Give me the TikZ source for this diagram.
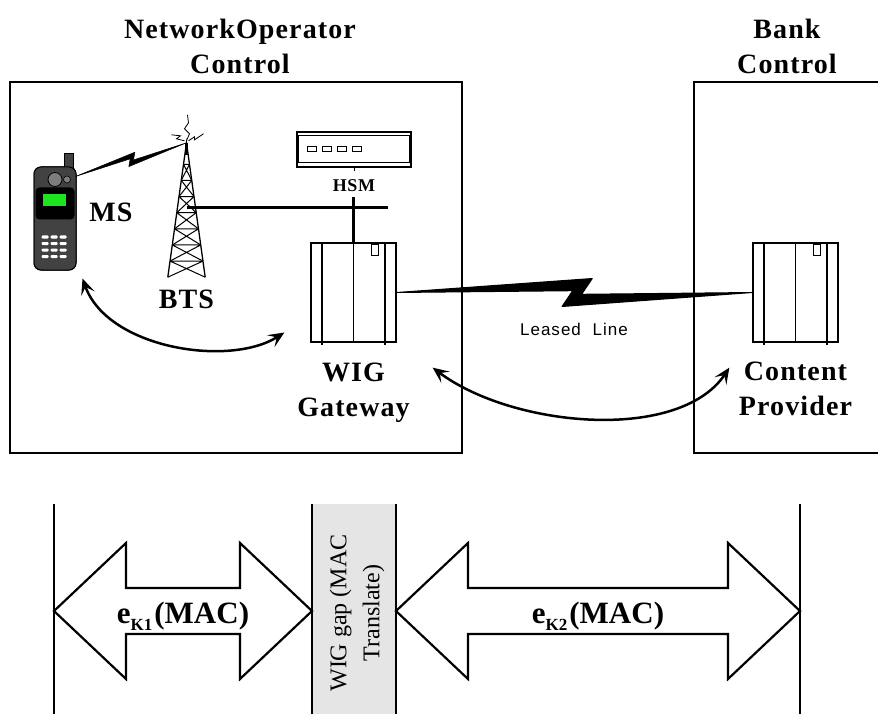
\documentclass[tikz,border=0pt]{standalone}
\usepackage{fontspec}
\setmainfont{Liberation Serif}
\newfontfamily\labelfont{Liberation Serif}[LetterSpace=4]
\newfontfamily\linefont{Liberation Sans}[LetterSpace=6]
\usetikzlibrary{positioning,calc,arrows.meta}

\definecolor{handsetgray}{RGB}{66,66,66}
\definecolor{eargray}{RGB}{125,125,125}
\definecolor{lcdgreen}{RGB}{30,230,30}
\definecolor{stripgray}{RGB}{229,229,229}

\tikzset{zone/.style={line width=1.2pt},
	 server/.style={draw,line width=1.3pt,fill=white,inner sep=0pt,minimum width=85pt,minimum height=99pt},
	 handset/.style={draw,line width=1pt,fill=handsetgray,rounded corners=7pt,inner sep=0pt,minimum width=42pt,minimum height=103pt},
	 hsmbox/.style={draw,line width=1.2pt,fill=white,inner sep=0pt,minimum width=114pt,minimum height=35pt},
	 mast/.style={inner sep=0pt,minimum width=37pt,minimum height=134pt},
	 bus/.style={line width=3pt},
	 lbl/.style={inner sep=0pt,align=center,font=\labelfont\bfseries\fontsize{28}{35}\selectfont},
	 xchg/.style={line width=2.5pt,{Stealth[length=16pt,width=14pt,inset=7pt]}-{Stealth[length=16pt,width=14pt,inset=7pt]}},
	 fatarrow/.style={draw,line width=2.2pt,fill=white,line join=miter},
	 maclbl/.style={inner sep=0pt,anchor=base,font=\bfseries\fontsize{31}{35}\selectfont},
	 wall/.style={line width=2pt},
	 node distance = 12pt
	 }

% zig-zag link: from, to, tip offset, inner offset, edge width
\newcommand{\bolt}[5]{%
  \filldraw[line width=#5,line join=round]
    (#1) -- ($(#1)!0.55!(#2)!#3!90:(#2)$) -- ($(#1)!0.52!(#2)!#4!-90:(#2)$) -- (#2)
    -- ($(#1)!0.465!(#2)!#3!-90:(#2)$) -- ($(#1)!0.495!(#2)!#4!90:(#2)$) -- cycle;}
% cabinet front
\newcommand{\rack}[1]{%
  \draw[line width=2.5pt] ($(#1.north west)+(11.5,0)$) -- ($(#1.south west)+(11.5,2.5)$);
  \draw[line width=2.5pt] ($(#1.north east)+(-11.5,0)$) -- ($(#1.south east)+(-11.5,2.5)$);
  \draw[line width=0.8pt] (#1.north) -- (#1.south);
  \draw[line width=1pt] ($(#1.north east)+(-25,2.5)$) rectangle ($(#1.north east)+(-18,13.5)$);}
% broad two-headed arrow between two tips
\newcommand{\macarrow}[2]{%
  \draw[fatarrow] (#1) -- ($(#1)+(72,-68)$) -- ($(#1)+(72,-23)$) -- ($(#2)+(-72,-23)$)
    -- ($(#2)+(-72,-68)$) -- (#2) -- ($(#2)+(-72,68)$) -- ($(#2)+(-72,23)$)
    -- ($(#1)+(72,23)$) -- ($(#1)+(72,68)$) -- cycle;}
\newcommand{\keysub}[1]{\raisebox{-7pt}{\fontsize{17}{17}\selectfont #1}}

\begin{document}
\begin{tikzpicture}[x=1pt,y=-1pt]
	\useasboundingbox (0,0) rectangle (878,714);
	% control domains
	\draw[zone] (10,82) rectangle (462,453);
	\draw[zone] (880,82) -- (694,82) -- (694,453) -- (880,453);
	\node[lbl] (notitle) at (240,46) {NetworkOperator\\Control};
	\node[lbl] (banktitle) at (787,46) {Bank\\Control};

	% devices
	\node[server] (wig) at (353.5,292.5) {};
	\node[server] (cp) at (795.5,292.5) {};
	\node[hsmbox] (hsm) at (354,149.5) {};
	\node[mast] (bts) at (186.5,210) {};
	\coordinate (apex) at (bts.north);

	% BTS mast
	\draw[line width=1.3pt] (bts.south west) -- (apex) -- (bts.south east);
	\foreach \a/\b in {0.16/0.28,0.28/0.40,0.40/0.52,0.52/0.64,0.64/0.76,0.76/0.88,0.88/1}
	  \draw[line width=1pt] ($(apex)!\a!(bts.south west)$) -- ($(apex)!\a!(bts.south east)$)
	     ($(apex)!\a!(bts.south west)$) -- ($(apex)!\b!(bts.south east)$)
	     ($(apex)!\a!(bts.south east)$) -- ($(apex)!\b!(bts.south west)$);
	\draw[line width=3pt] (apex) -- ++(0,12);
	\draw[line width=0.8pt] ($(apex)+(0,-2)$) -- ++(3,-7) -- ++(-5,-5) -- ++(4,-6) -- ++(-1,-8);
	\draw[line width=0.8pt] ($(apex)+(-2,-2)$) -- ++(-8,-2) -- ++(4,-3) -- ++(-9,-1);
	\draw[line width=0.8pt] ($(apex)+(2,-2)$) -- ++(6,-4) -- ++(0,3) -- ++(9,-6);

	% handset
	\node[handset] (ms) at (55,218.5) {};
	\filldraw[fill=handsetgray,line width=0.8pt] ($(ms.north east)+(-12,-13)$) rectangle ($(ms.north east)+(-3,3)$);
	\node[handset] at (ms) {};
	\filldraw[fill=eargray,line width=0.8pt] ($(ms.north)+(0,13)$) circle[radius=7pt];
	\filldraw[fill=eargray,line width=0.6pt] ($(ms.north)+(12,13)$) circle[radius=3.5pt];
	\fill[black,rounded corners=4pt] ($(ms.north west)+(2,21)$) rectangle ($(ms.north east)+(-2,53)$);
	\fill[lcdgreen] ($(ms.north west)+(9,28)$) rectangle ($(ms.north west)+(32,40)$);
	\foreach \r in {0,...,3}
	  \foreach \c in {0,1,2}
	    \fill[white,rounded corners=1pt] ($(ms.north west)+(8+9*\c,69+6.5*\r)$) rectangle ++(7,3);

	% HSM front panel
	\draw[line width=1pt] ($(hsm.north west)+(2,4)$) rectangle ($(hsm.south east)+(-2,-5)$);
	\foreach \i in {11,26,41,56}
	  \draw[line width=1pt] ($(hsm.west)+(\i,-2.5)$) rectangle ++(9,5);
	\draw[line width=1pt] (hsm.south) -- ++(0,3);

	\rack{wig}
	\rack{cp}

	% links
	\coordinate (busend) at (388,208);
	\coordinate[above=45pt of wig.north] (hsmtap);
	\draw[bus] (apex |- busend) -- (busend);
	\draw[bus] (hsmtap) -- (wig.north);
	\coordinate (msant) at ($(ms.north east)+(-1,10)$);
	\bolt{msant}{apex}{6pt}{1pt}{0.5pt}
	\bolt{wig.east}{cp.west}{14pt}{1.8pt}{1pt}
	\node[inner sep=0pt,font=\linefont\fontsize{17}{20}\selectfont] (leased) at (574,329) {Leased\hspace{6pt} Line};

	% labels
	\node[lbl] (mslbl) at (111,212) {MS};
	\node[lbl] (btslbl) [below=13pt of bts] {BTS};
	\node[lbl,font=\labelfont\bfseries\fontsize{18}{20}\selectfont] (hsmlbl) [below=of hsm] {HSM};
	\node[lbl] (wiglbl) [below=20pt of wig] {WIG\\Gateway};
	\node[lbl] (cplbl) [below=19pt of cp] {Content\\Provider};

	% end to end exchanges
	\coordinate (msarr) at ($(ms.south east)+(6,8)$);
	\coordinate (wigarr) at ($(wig.west)+(-26,40)$);
	\draw[xchg] (msarr) .. controls +(25,70) and +(-55,35) .. (wigarr);
	\coordinate (wigarr2) at ($(wig.south east)+(36,25)$);
	\coordinate (cparr) at ($(cp.south west)+(-23,25)$);
	\draw[xchg] (wigarr2) .. controls +(80,60) and +(-50,75) .. (cparr);

	% MAC protection layers
	\fill[stripgray] (312,504) rectangle (396,714);
	\foreach \x in {54,312,396,800}
	  \draw[wall] (\x,504) -- (\x,714);
	\coordinate (k1l) at (54,611); \coordinate (k1r) at (312,611);
	\coordinate (k2l) at (396,611); \coordinate (k2r) at (800,611);
	\macarrow{k1l}{k1r}
	\macarrow{k2l}{k2r}
	\node[maclbl] (k1lbl) at ($(k1l)!0.5!(k1r)+(0,12)$) {e\keysub{K1}\hspace{2pt}(MAC)};
	\node[maclbl] (k2lbl) at ($(k2l)!0.5!(k2r)+(0,12)$) {e\keysub{K2}\hspace{2pt}(MAC)};
	\node[rotate=90,align=center,inner sep=0pt,font=\fontsize{24}{33}\selectfont] (gap) at (357,613) {WIG gap (MAC\\Translate)};
\end{tikzpicture}
\end{document}
